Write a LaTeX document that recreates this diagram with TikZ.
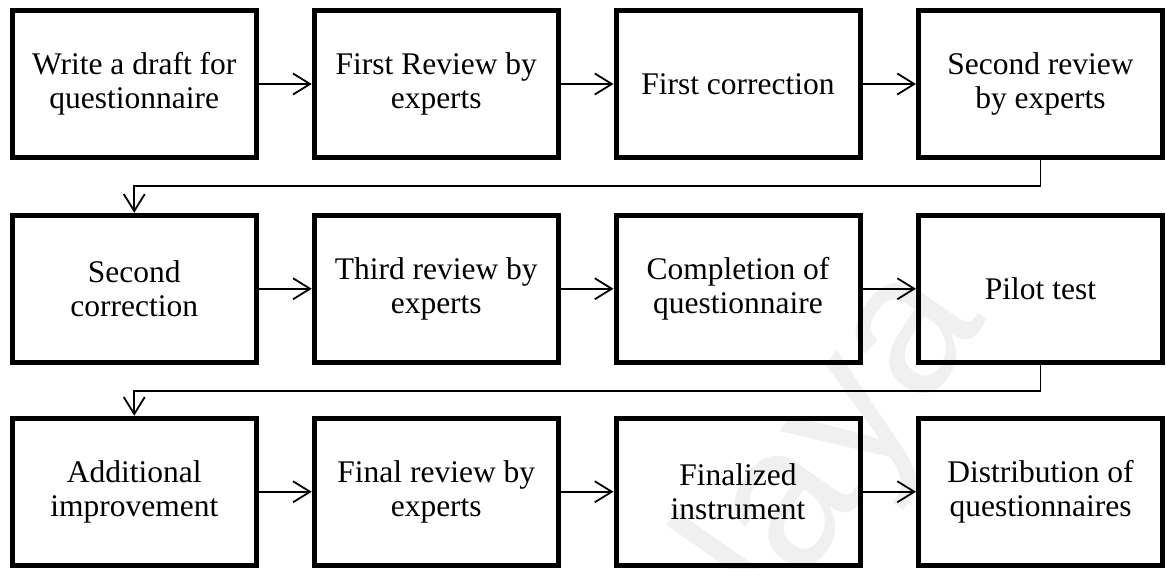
\documentclass[tikz,border=0pt]{standalone}
\usepackage{fontspec}
\setmainfont{Liberation Serif}
\newfontfamily\wmfont{Liberation Sans}
\usetikzlibrary{arrows.meta}

\tikzset{
  stepbox/.style={draw, line width=5pt, minimum width=244pt, minimum height=147pt,
    inner sep=0pt, align=center, font=\fontsize{31.5}{34}\selectfont},
  flow/.style={line width=1.8pt, -{Straight Barb[length=17pt, width=21pt, line width=1.8pt]}},
  wmark/.style={text=black!6, font=\wmfont\fontsize{200}{200}\selectfont, inner sep=0pt}
}

\begin{document}
\begin{tikzpicture}[x=1pt, y=-1pt]
  \useasboundingbox (0,0) rectangle (1167,568);

  % faint watermark lettering behind the chart
  \node[wmark, rotate=55] (wm) at (840,440) {laya};

  % row 1
  \node[stepbox] (s1) at (134.25,84) {Write a draft for\\questionnaire};
  \node[stepbox] (s2) at (436.25,84) {First Review by\\experts};
  \node[stepbox] (s3) at (738,84) {First correction};
  \node[stepbox] (s4) at (1040.5,84) {Second review\\by experts};
  % row 2
  \node[stepbox] (s5) at (134.25,288.75) {Second\\correction};
  \node[stepbox] (s6) at (436.25,288.75) {Third review by\\experts};
  \node[stepbox] (s7) at (738,288.75) {Completion of\\questionnaire};
  \node[stepbox] (s8) at (1040.5,288.75) {Pilot test};
  % row 3
  \node[stepbox] (s9) at (134.25,491.75) {Additional\\improvement};
  \node[stepbox] (s10) at (436.25,491.75) {Final review by\\experts};
  \node[stepbox] (s11) at (738,491.75) {Finalized\\instrument};
  \node[stepbox] (s12) at (1040.5,491.75) {Distribution of\\questionnaires};

  % arrows within rows
  \foreach \a/\b in {s1/s2, s2/s3, s3/s4, s5/s6, s6/s7, s7/s8, s9/s10, s10/s11, s11/s12}
    \draw[flow] (\a.east) -- (\b.west);

  % arrows wrapping to the next row
  \draw[flow] (s4.south) -- ++(0,26) -| (s5.north);
  \draw[flow] (s8.south) -- ++(0,26) -| (s9.north);
\end{tikzpicture}
\end{document}
